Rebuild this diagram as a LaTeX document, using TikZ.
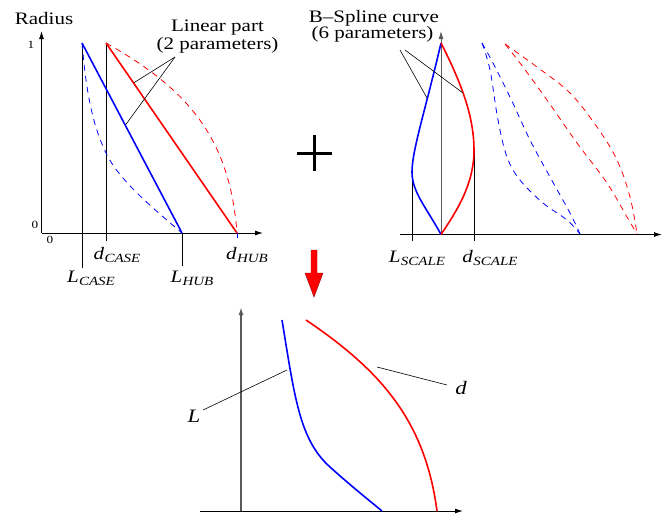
\documentclass[tikz,border=0pt]{standalone}
\usepackage{fontspec}
\setmainfont[FakeStretch=1.2]{Liberation Serif}
\usetikzlibrary{arrows.meta}
\definecolor{pblue}{RGB}{0,0,255}
\definecolor{pred}{RGB}{255,0,0}
\newcommand{\sublab}[2]{\textit{#1}\kern0.3pt\raisebox{-3pt}{\fontsize{12.5}{13}\selectfont\textit{#2}}}
\begin{document}
\begin{tikzpicture}[x=1pt,y=-1pt,
  ax/.style={line width=0.9pt, -{Latex[length=8pt,width=5pt]}},
  gax/.style={ax, draw=gray!70!black},
  sol/.style={line width=1.6pt},
  dsh/.style={line width=0.8pt, dash pattern=on 6pt off 5pt},
  ptr/.style={line width=0.6pt},
  vl/.style={line width=0.8pt},
  big/.style={font=\fontsize{17.5}{19}\selectfont, inner sep=0pt},
  tk/.style={font=\fontsize{11}{12}\selectfont, inner sep=0pt}]
\useasboundingbox (0,0) rectangle (671,515);

% ---------- left plot ----------
\coordinate (O1) at (41.5,233);
\coordinate (Y1) at (41.5,31);
\coordinate (X1) at (263,233);
\coordinate (LCt) at (82,43);
\coordinate (LCb) at (82,268);
\coordinate (DCt) at (106,43);
\coordinate (DCb) at (106,241);
\coordinate (LH) at (182,233);
\coordinate (LHb) at (182,266);
\coordinate (DH) at (237,233);
\coordinate (DHb) at (237,238);

\draw[vl] (LCt) -- (LCb);
\draw[vl] (DCt) -- (DCb);
\draw[vl] (LH) -- (LHb);
\draw[ax] (O1) -- (Y1);
\draw[ax] (O1) -- (X1);
\draw[pblue, line width=0.8pt] (DH) -- (DHb);

\draw[pblue, dsh] (LCt) .. controls (86,90) and (92,125) .. (107,155)
  .. controls (120,181) and (155,210) .. (LH);
\draw[pred, dsh] (DCt) .. controls (190,90) and (230,140) .. (DH);
\draw[pblue, sol] (LCt) -- (LH);
\draw[pred, sol] (DCt) -- (DH);

\node[big] (rad) at (44,19) {Radius};
\node[tk] (one) at (31,45) {1};
\node[tk] (zeroy) at (35,225) {0};
\node[tk] (zerox) at (50,240) {0};
\node[big] (lin1) at (217.5,27.5) {Linear part};
\node[big] (lin2) at (217.5,45) {(2 parameters)};
\coordinate (lp) at (175,57);
\coordinate (lpr) at (133.5,83);
\coordinate (lpb) at (125.5,125);
\draw[ptr] (lp) -- (lpr);
\draw[ptr] (lp) -- (lpb);

\node[big] (dcase) at (117,255) {\sublab{d}{CASE}};
\node[big] (lcase) at (91,278) {\sublab{L}{CASE}};
\node[big] (lhub) at (192,278) {\sublab{L}{HUB}};
\node[big] (dhub) at (247,255) {\sublab{d}{HUB}};

% ---------- plus ----------
\coordinate (ph1) at (297,153);
\coordinate (ph2) at (332,153);
\coordinate (pv1) at (314,135);
\coordinate (pv2) at (314,171);
\draw[line width=3pt] (ph1) -- (ph2);
\draw[line width=3pt] (pv1) -- (pv2);

% ---------- red arrow ----------
\fill[pred, draw=pred!55!black, line width=0.4pt]
  (311,250) -- (317,250) -- (317,273) -- (323,273) -- (314,297) -- (305,273) -- (311,273) -- cycle;

% ---------- right plot ----------
\coordinate (O2) at (441,234.5);
\coordinate (T2) at (441,43);
\coordinate (Y2) at (441,31);
\coordinate (X2a) at (400,234.5);
\coordinate (X2) at (662,234.5);
\coordinate (LSt) at (412,173);
\coordinate (LSb) at (412,241);
\coordinate (DSt) at (474,150);
\coordinate (DSb) at (474,241);

\draw[vl] (LSt) -- (LSb);
\draw[vl] (DSt) -- (DSb);
\draw[ax] (X2a) -- (X2);
\draw[gax] (O2) -- (Y2);

\draw[pblue, dsh] plot[smooth, tension=0.6] coordinates
  {(482,43) (490,70) (498,120) (507,157) (520,180) (543,203) (567,220) (580,234)};
\draw[pblue, dsh] plot[smooth, tension=0.6] coordinates
  {(482,43) (493,63) (510,97) (530,140) (550,177) (570,213) (580,234)};
\draw[pred, dsh] plot[smooth, tension=0.6] coordinates
  {(505,44) (537,67) (570,93) (597,127) (617,160) (630,197) (637,234)};
\draw[pred, dsh] plot[smooth, tension=0.6] coordinates
  {(505,44) (523,67) (547,100) (577,143) (607,183) (627,217) (637,234)};

\draw[pblue, sol] (T2) .. controls (426,108) and (412,150) .. (412,172)
  .. controls (412,192) and (426,207) .. (O2);
\draw[pred, sol] (T2) .. controls (464,88) and (474,120) .. (474,150)
  .. controls (474,185) and (456,212) .. (O2);

\node[big] (bs1) at (374,18) {B--Spline curve};
\node[big] (bs2) at (372.5,34.5) {(6 parameters)};
\coordinate (bp1) at (400,50);
\coordinate (bp2) at (405,50);
\coordinate (bpb) at (427,98);
\coordinate (bpr) at (463,93);
\draw[ptr] (bp1) -- (bpb);
\draw[ptr] (bp2) -- (bpr);

\node[big] (lscale) at (417,258) {\sublab{L}{SCALE}};
\node[big] (dscale) at (490,258) {\sublab{d}{SCALE}};

% ---------- bottom plot ----------
\coordinate (O3) at (241,511);
\coordinate (Y3) at (241,307);
\coordinate (X3a) at (200,511);
\coordinate (X3) at (463,511);
\draw[ax] (X3a) -- (X3);
\draw[gax, line width=1.6pt] (O3) -- (Y3);

\coordinate (Bs) at (282,320);
\coordinate (Bm) at (330,467);
\coordinate (Be) at (382,511);
\coordinate (Rs) at (306,320);
\coordinate (Re) at (437,511);
\draw[pblue, sol] (Bs) .. controls (295,400) and (300,440) .. (Bm)
  .. controls (350,485) and (365,497) .. (Be);
\draw[pred, sol] (Rs) .. controls (380,370) and (425,420) .. (Re);

\node[big, font=\fontsize{19}{21}\selectfont\itshape] (Lbl) at (194,416) {L};
\node[big, font=\fontsize{19}{21}\selectfont\itshape] (dbl) at (461,388) {d};
\coordinate (Lp1) at (203,410);
\coordinate (Lp2) at (287,370);
\coordinate (dp1) at (377,367);
\coordinate (dp2) at (447,385);
\draw[ptr] (Lp1) -- (Lp2);
\draw[ptr] (dp1) -- (dp2);
\end{tikzpicture}
\end{document}
